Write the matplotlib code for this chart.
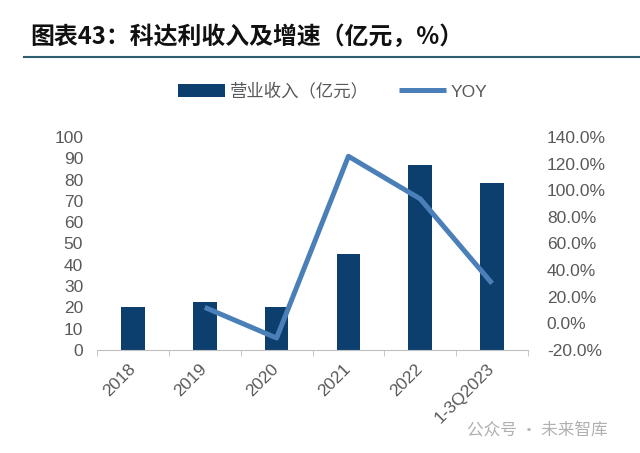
import matplotlib
matplotlib.use("Agg")
import matplotlib.pyplot as plt
import numpy as np

plt.rcParams['font.family'] = ['Liberation Sans', 'Noto Sans CJK SC', 'DejaVu Sans']

categories = ['2018', '2019', '2020', '2021', '2022', '1-3Q2023']
revenue = [20.0, 22.5, 20.0, 45.0, 87.0, 78.5]
yoy = [None, 12.0, -11.0, 125.5, 93.5, 30.0]

bar_color = '#0C3F6E'
line_color = '#4A7FB8'
text_color = '#595959'

fig = plt.figure(figsize=(6.4, 4.53), dpi=100)
ax = fig.add_axes([0.1516, 0.2274, 0.6734, 0.4702])
x = np.arange(len(categories))
ax.bar(x, revenue, width=0.33, color=bar_color, label='营业收入（亿元）', zorder=2)
ax.set_xlim(-0.5, len(categories) - 0.5)
ax.set_ylim(0, 100)
ax.set_yticks(range(0, 101, 10))
ax.tick_params(axis='y', length=0, labelsize=12.5, labelcolor=text_color, pad=10)
for s in ['top', 'right', 'left']:
    ax.spines[s].set_visible(False)
ax.spines['bottom'].set_color('#BFBFBF')
ax.set_xticks(x)
ax.set_xticklabels(categories, rotation=45, ha='right', va='center',
                   rotation_mode='anchor', fontsize=12.5, color=text_color)
ax.tick_params(axis='x', length=0, pad=12)
ax.set_xticks(np.arange(-0.5, len(categories)), minor=True)
ax.tick_params(axis='x', which='minor', length=4, color='#BFBFBF')

ax2 = ax.twinx()
xs = [i for i, v in enumerate(yoy) if v is not None]
ys = [v / 100 for v in yoy if v is not None]
ax2.plot(xs, ys, color=line_color, lw=3.6, label='YOY', zorder=3, solid_capstyle='butt')
ax2.set_ylim(-0.2, 1.4)
ax2.set_yticks(np.arange(-0.2, 1.41, 0.2))
ax2.set_yticklabels([f'{v:.1f}%' for v in np.arange(-20, 141, 20)])
ax2.tick_params(axis='y', length=0, labelsize=12.5, labelcolor=text_color, pad=13.5)
for s in ['top', 'right', 'left', 'bottom']:
    ax2.spines[s].set_visible(False)

h1, l1 = ax.get_legend_handles_labels()
h2, l2 = ax2.get_legend_handles_labels()
fig.legend(h1 + h2, l1 + l2, loc='center', bbox_to_anchor=(0.52, 0.799), ncol=2,
           frameon=False, fontsize=12.5, labelcolor=text_color, handlelength=2.7,
           columnspacing=1.7, handletextpad=0.3)

fig.text(0.048, 0.918, '图表43：科达利收入及增速（亿元，%）', fontsize=17.2,
         fontweight='bold', style='italic', color='#111111',
         family=['Noto Sans CJK SC', 'DejaVu Sans'], va='center')
fig.add_artist(plt.Line2D([0.0375, 1.0], [0.874, 0.874], color='#2E5E6E', lw=1.5))

fig.text(0.73, 0.051, '公众号 · 未来智库', fontsize=12, color='#B0B0B0',
         family=['Noto Sans CJK SC', 'DejaVu Sans'], va='center')

fig.savefig('out.png', dpi=100, facecolor='white')
